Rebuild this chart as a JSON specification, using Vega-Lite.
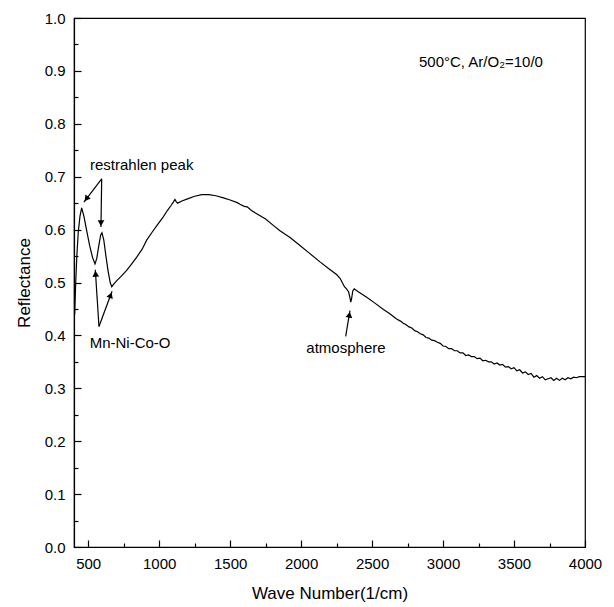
{
  "$schema": "https://vega.github.io/schema/vega-lite/v6.json",
  "autosize": "none",
  "width": 511,
  "height": 529,
  "padding": {"left": 74, "top": 18, "right": 29, "bottom": 60},
  "background": "white",
  "config": {
    "view": {"stroke": "black", "strokeWidth": 1.2},
    "font": "Liberation Sans"
  },
  "resolve": {"axis": {"x": "independent", "y": "independent"}},
  "datasets": {
    "curve": [
      {"w":405,"r":0.44},{"w":412,"r":0.50},{"w":420,"r":0.55},{"w":430,"r":0.595},{"w":442,"r":0.625},{"w":454,"r":0.641},
      {"w":470,"r":0.625},{"w":490,"r":0.597},{"w":510,"r":0.570},{"w":530,"r":0.548},{"w":548,"r":0.535},{"w":560,"r":0.545},
      {"w":575,"r":0.570},{"w":588,"r":0.590},{"w":597,"r":0.594},{"w":610,"r":0.580},{"w":625,"r":0.550},{"w":640,"r":0.522},
      {"w":655,"r":0.500},{"w":666,"r":0.492},{"w":680,"r":0.497},{"w":700,"r":0.503},{"w":730,"r":0.511},{"w":771,"r":0.523},
      {"w":800,"r":0.533},{"w":842,"r":0.548},{"w":880,"r":0.563},{"w":912,"r":0.580},{"w":950,"r":0.595},{"w":990,"r":0.610},
      {"w":1029,"r":0.624},{"w":1060,"r":0.637},{"w":1085,"r":0.646},{"w":1100,"r":0.652},{"w":1111,"r":0.657},{"w":1120,"r":0.653},
      {"w":1130,"r":0.650},{"w":1160,"r":0.654},{"w":1200,"r":0.658},{"w":1250,"r":0.663},{"w":1300,"r":0.666},{"w":1350,"r":0.666},
      {"w":1400,"r":0.664},{"w":1452,"r":0.660},{"w":1500,"r":0.656},{"w":1550,"r":0.651},{"w":1569,"r":0.648},{"w":1600,"r":0.644},
      {"w":1620,"r":0.643},{"w":1650,"r":0.636},{"w":1687,"r":0.630},{"w":1750,"r":0.620},{"w":1804,"r":0.608},{"w":1851,"r":0.598},
      {"w":1922,"r":0.585},{"w":1992,"r":0.570},{"w":2060,"r":0.555},{"w":2133,"r":0.539},{"w":2200,"r":0.525},{"w":2250,"r":0.515},
      {"w":2274,"r":0.508},{"w":2290,"r":0.500},{"w":2305,"r":0.492},{"w":2320,"r":0.488},{"w":2335,"r":0.482},{"w":2345,"r":0.470},
      {"w":2350,"r":0.463},{"w":2356,"r":0.470},{"w":2364,"r":0.484},{"w":2374,"r":0.488},{"w":2400,"r":0.483},{"w":2462,"r":0.472},
      {"w":2520,"r":0.461},{"w":2580,"r":0.449},{"w":2620,"r":0.442},{"w":2673,"r":0.431},
      {"w":2700,"r":0.427},{"w":2720,"r":0.423},{"w":2740,"r":0.420},{"w":2760,"r":0.416},{"w":2780,"r":0.414},{"w":2800,"r":0.409},
      {"w":2820,"r":0.407},{"w":2840,"r":0.403},{"w":2860,"r":0.401},{"w":2880,"r":0.396},{"w":2900,"r":0.395},{"w":2920,"r":0.391},
      {"w":2940,"r":0.390},{"w":2960,"r":0.387},{"w":2980,"r":0.385},{"w":3000,"r":0.380},{"w":3020,"r":0.379},{"w":3040,"r":0.375},
      {"w":3060,"r":0.375},{"w":3080,"r":0.371},{"w":3100,"r":0.371},{"w":3120,"r":0.367},{"w":3140,"r":0.367},{"w":3160,"r":0.362},
      {"w":3180,"r":0.363},{"w":3200,"r":0.360},{"w":3220,"r":0.360},{"w":3240,"r":0.356},{"w":3260,"r":0.357},{"w":3280,"r":0.352},
      {"w":3300,"r":0.353},{"w":3320,"r":0.350},{"w":3340,"r":0.350},{"w":3360,"r":0.346},{"w":3380,"r":0.348},{"w":3400,"r":0.344},
      {"w":3420,"r":0.345},{"w":3440,"r":0.340},{"w":3460,"r":0.341},{"w":3480,"r":0.337},{"w":3500,"r":0.339},{"w":3520,"r":0.333},
      {"w":3540,"r":0.335},{"w":3560,"r":0.329},{"w":3580,"r":0.331},{"w":3600,"r":0.326},{"w":3620,"r":0.328},{"w":3640,"r":0.321},
      {"w":3660,"r":0.324},{"w":3680,"r":0.319},{"w":3700,"r":0.322},{"w":3720,"r":0.316},{"w":3740,"r":0.318},{"w":3760,"r":0.320},
      {"w":3780,"r":0.315},{"w":3800,"r":0.319},{"w":3820,"r":0.315},{"w":3840,"r":0.319},{"w":3860,"r":0.316},{"w":3880,"r":0.320},
      {"w":3900,"r":0.318},{"w":3920,"r":0.321},{"w":3940,"r":0.320},{"w":3960,"r":0.322},{"w":3980,"r":0.322},{"w":4000,"r":0.322}
    ],
    "arrows": [
      {"w":595,"r":0.696,"w2":470,"r2":0.652,"hw":487,"hr":0.658,"ang":217},
      {"w":595,"r":0.696,"w2":590,"r2":0.605,"hw":590,"hr":0.6123,"ang":181},
      {"w":576,"r":0.4167,"w2":550,"r2":0.524,"hw":552,"hr":0.5165,"ang":356},
      {"w":576,"r":0.4167,"w2":668,"r2":0.4835,"hw":658,"hr":0.476,"ang":20},
      {"w":2314,"r":0.398,"w2":2344,"r2":0.447,"hw":2340,"hr":0.439,"ang":9}
    ],
    "labels": [
      {"w":877,"r":0.722,"t":"restrahlen peak"},
      {"w":795,"r":0.386,"t":"Mn-Ni-Co-O"},
      {"w":2316,"r":0.377,"t":"atmosphere"},
      {"w":3267,"r":0.917,"t":"500°C, Ar/O₂=10/0"}
    ]
  },
  "layer": [
    {
      "data": {"name": "curve"},
      "mark": {"type": "line", "color": "black", "strokeWidth": 1.2, "clip": true},
      "encoding": {
        "x": {
          "field": "w", "type": "quantitative",
          "scale": {"domain": [400, 4000], "nice": false, "zero": false},
          "axis": {
            "orient": "bottom",
            "title": "Wave Number(1/cm)",
            "values": [500,1000,1500,2000,2500,3000,3500,4000],
            "format": "d",
            "grid": false,
            "domainColor": "black",
            "domainWidth": 1.2,
            "tickColor": "black",
            "tickWidth": 1.2,
            "tickSize": -7,
            "labelPadding": 16,
            "labelColor": "black",
            "labelFontSize": 15,
            "labelFont": "Liberation Sans",
            "labelFlush": false,
            "titleFont": "Liberation Sans",
            "titleFontSize": 17,
            "titleFontWeight": "normal",
            "titleColor": "black",
            "titlePadding": 14
          }
        },
        "y": {
          "field": "r", "type": "quantitative",
          "scale": {"domain": [0, 1], "nice": false},
          "axis": {
            "orient": "left",
            "title": "Reflectance",
            "values": [0,0.1,0.2,0.3,0.4,0.5,0.6,0.7,0.8,0.9,1.0],
            "format": ".1f",
            "grid": false,
            "domainColor": "black",
            "domainWidth": 1.2,
            "tickColor": "black",
            "tickWidth": 1.2,
            "tickSize": -7,
            "labelPadding": 16,
            "labelColor": "black",
            "labelFontSize": 15,
            "labelFont": "Liberation Sans",
            "labelFlush": false,
            "titleFont": "Liberation Sans",
            "titleFontSize": 17,
            "titleFontWeight": "normal",
            "titleColor": "black",
            "titlePadding": 11
          }
        }
      }
    },
    {
      "data": {"name": "arrows"},
      "mark": {"type": "rule", "color": "black", "strokeWidth": 1.2},
      "encoding": {
        "x": {"field": "w", "type": "quantitative",
          "axis": {"orient": "bottom", "title": null, "labels": false, "domain": false, "grid": false,
            "values": [750,1250,1750,2250,2750,3250,3750], "tickColor": "black", "tickWidth": 1.2, "tickSize": -4}},
        "y": {"field": "r", "type": "quantitative",
          "axis": {"orient": "left", "title": null, "labels": false, "domain": false, "grid": false,
            "values": [0.05,0.15,0.25,0.35,0.45,0.55,0.65,0.75,0.85,0.95], "tickColor": "black", "tickWidth": 1.2, "tickSize": -4}},
        "x2": {"field": "w2"},
        "y2": {"field": "r2"}
      }
    },
    {
      "data": {"name": "arrows"},
      "mark": {"type": "point", "shape": "triangle-up", "filled": true, "color": "black", "size": 45, "opacity": 1},
      "encoding": {
        "x": {"field": "hw", "type": "quantitative", "axis": null},
        "y": {"field": "hr", "type": "quantitative", "axis": null},
        "angle": {"field": "ang", "type": "quantitative", "scale": {"domain": [0, 360], "range": [0, 360]}}
      }
    },
    {
      "data": {"name": "labels"},
      "mark": {"type": "text", "font": "Liberation Sans", "fontSize": 15, "color": "black", "baseline": "middle", "align": "center"},
      "encoding": {
        "x": {"field": "w", "type": "quantitative", "axis": null},
        "y": {"field": "r", "type": "quantitative", "axis": null},
        "text": {"field": "t"}
      }
    }
  ]
}
